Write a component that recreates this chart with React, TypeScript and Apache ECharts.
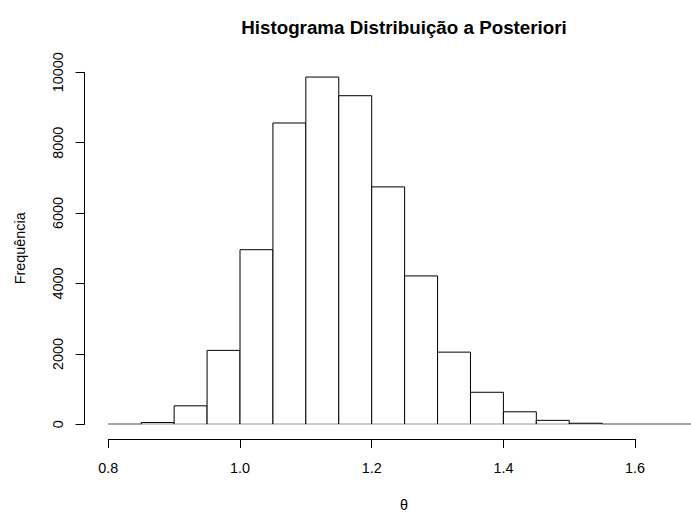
import React, { useEffect, useRef } from "react";
import * as echarts from "echarts";

// Histogram bins (left edges) and counts
const binStarts = [0.8, 0.85, 0.9, 0.95, 1.0, 1.05, 1.1, 1.15, 1.2, 1.25, 1.3, 1.35, 1.4, 1.45, 1.5, 1.55, 1.6, 1.65];
const binWidth = 0.05;
const counts = [0, 50, 525, 2100, 4960, 8560, 9865, 9335, 6745, 4215, 2050, 910, 355, 112, 30, 0, 0, 0];
const yTicks = [0, 10000, 2000]; // min, max, interval
const xTicks = [0.8, 1.6, 0.2]; // min, max, interval

const titleText = "Histograma Distribuição a Posteriori";
const yName = "Frequência";
const xName = "θ";

const FONT = '"Liberation Sans", Arial, Helvetica, sans-serif';

export default function App() {
  const ref = useRef<HTMLDivElement>(null);
  useEffect(() => {
    if (!ref.current) return;
    const chart = echarts.init(ref.current, null, { renderer: "svg" });
    const data = binStarts.map((s, i) => [s, +(s + binWidth).toFixed(2), counts[i]]);
    chart.setOption({
      animation: false,
      backgroundColor: "#ffffff",
      textStyle: { fontFamily: FONT },
      title: {
        text: titleText,
        left: 404,
        top: 17.5,
        textAlign: "center",
        padding: 0,
        textStyle: { fontFamily: FONT, fontSize: 18.8, fontWeight: "bold", color: "#000" },
      },
      grid: [
        { left: 84.6, right: 0, top: 72.3, bottom: 88.7 },
        { left: 108.3, right: 55.9, top: 438, height: 1 },
      ],
      xAxis: [
        { type: "value", gridIndex: 0, min: 0.764, max: 1.6849, show: false },
        {
          type: "value",
          gridIndex: 1,
          min: xTicks[0],
          max: xTicks[1],
          interval: xTicks[2],
          position: "bottom",
          axisLine: { show: true, lineStyle: { color: "#000", width: 1 } },
          axisTick: { show: true, length: 9, lineStyle: { color: "#000", width: 1 } },
          axisLabel: {
            margin: 22,
            fontSize: 14.4,
            color: "#000",
            fontFamily: FONT,
            formatter: (v: number) => v.toFixed(1),
          },
          splitLine: { show: false },
        },
      ],
      yAxis: [
        {
          type: "value",
          gridIndex: 0,
          min: yTicks[0],
          max: yTicks[1],
          interval: yTicks[2],
          name: yName,
          nameLocation: "middle",
          nameRotate: 90,
          nameGap: 58,
          nameTextStyle: { fontSize: 14.4, color: "#000", fontFamily: FONT },
          axisLine: { show: true, lineStyle: { color: "#000", width: 1 } },
          axisTick: { show: true, length: 9, lineStyle: { color: "#000", width: 1 } },
          axisLabel: {
            rotate: 90,
            margin: 20,
            fontSize: 14.4,
            color: "#000",
            fontFamily: FONT,
            formatter: (v: number) => String(v),
          },
          splitLine: { show: false },
        },
        { type: "value", gridIndex: 1, show: false },
      ],
      graphic: [
        {
          type: "text",
          x: 404,
          y: 505,
          style: {
            text: xName,
            fill: "#000",
            font: `14.4px ${FONT}`,
            textAlign: "center",
            textVerticalAlign: "middle",
          },
        },
      ],
      series: [
        {
          type: "custom",
          xAxisIndex: 0,
          yAxisIndex: 0,
          clip: true,
          data,
          encode: { x: [0, 1], y: 2 },
          renderItem: (params: any, api: any) => {
            const x0 = api.value(0);
            const x1 = api.value(1);
            const c = api.value(2);
            const p0 = api.coord([x0, 0]);
            const p1 = api.coord([x1, c]);
            return {
              type: "polygon",
              shape: {
                points: [
                  [p0[0], p0[1]],
                  [p0[0], p1[1]],
                  [p1[0], p1[1]],
                  [p1[0], p0[1]],
                ],
              },
              style: { fill: "#ffffff", stroke: "#000000", lineWidth: 1 },
            };
          },
        },
      ],
    });
    return () => chart.dispose();
  }, []);
  return (
    <div
      ref={ref}
      style={{ position: "fixed", left: 0, top: 0, width: 691, height: 513 }}
    />
  );
}
